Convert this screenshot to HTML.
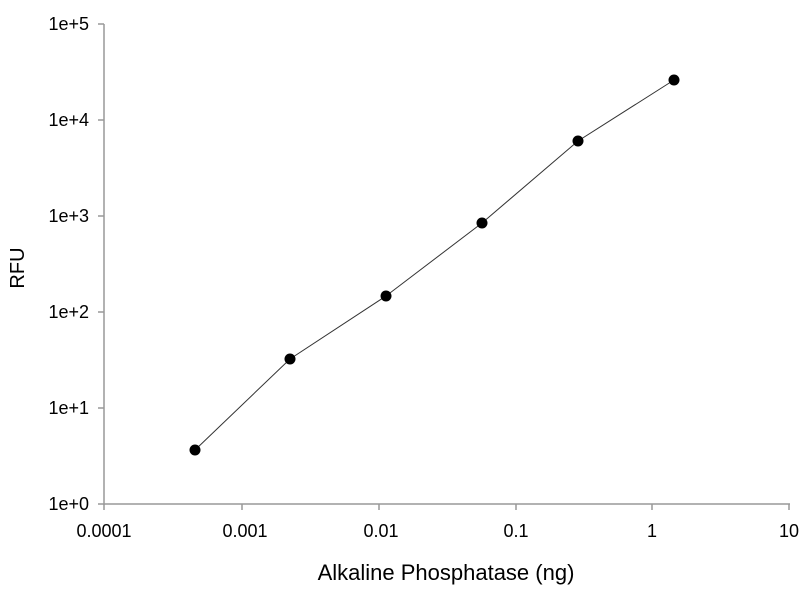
<!DOCTYPE html>
<html><head><style>body{margin:0;background:#fff}</style></head><body>
<svg width="800" height="600" xmlns="http://www.w3.org/2000/svg" font-family="Liberation Sans, sans-serif">
<rect width="800" height="600" fill="#fff"/>
<g stroke="#999" stroke-width="1.5">
<line x1="104" y1="24" x2="104" y2="505"/>
<line x1="104" y1="504" x2="790" y2="504"/>
<line x1="98" y1="24" x2="104" y2="24"/>
<line x1="98" y1="120" x2="104" y2="120"/>
<line x1="98" y1="216" x2="104" y2="216"/>
<line x1="98" y1="312" x2="104" y2="312"/>
<line x1="98" y1="408" x2="104" y2="408"/>
<line x1="98" y1="504" x2="104" y2="504"/>
<line x1="104" y1="504" x2="104" y2="510"/>
<line x1="242" y1="504" x2="242" y2="510"/>
<line x1="379" y1="504" x2="379" y2="510"/>
<line x1="516" y1="504" x2="516" y2="510"/>
<line x1="652" y1="504" x2="652" y2="510"/>
<line x1="789" y1="504" x2="789" y2="510"/>
</g>
<g font-size="18" fill="#000" text-anchor="end">
<text x="89" y="30">1e+5</text>
<text x="89" y="126">1e+4</text>
<text x="89" y="222">1e+3</text>
<text x="89" y="318">1e+2</text>
<text x="89" y="414">1e+1</text>
<text x="89" y="510">1e+0</text>
</g>
<g font-size="18" fill="#000" text-anchor="middle">
<text x="104" y="537">0.0001</text>
<text x="245" y="537">0.001</text>
<text x="381" y="537">0.01</text>
<text x="516" y="537">0.1</text>
<text x="652" y="537">1</text>
<text x="789" y="537">10</text>
</g>
<text x="446" y="580" font-size="22" text-anchor="middle">Alkaline Phosphatase (ng)</text>
<text x="24" y="268" font-size="20" text-anchor="middle" transform="rotate(-90 24 268)">RFU</text>
<polyline fill="none" stroke="#333" stroke-width="1" points="195,450 290,359 386,296 482,223 578,141 674,80"/>
<g fill="#000">
<circle cx="195" cy="450" r="5.5"/><circle cx="290" cy="359" r="5.5"/><circle cx="386" cy="296" r="5.5"/>
<circle cx="482" cy="223" r="5.5"/><circle cx="578" cy="141" r="5.5"/><circle cx="674" cy="80" r="5.5"/>
</g>
</svg>
</body></html>
